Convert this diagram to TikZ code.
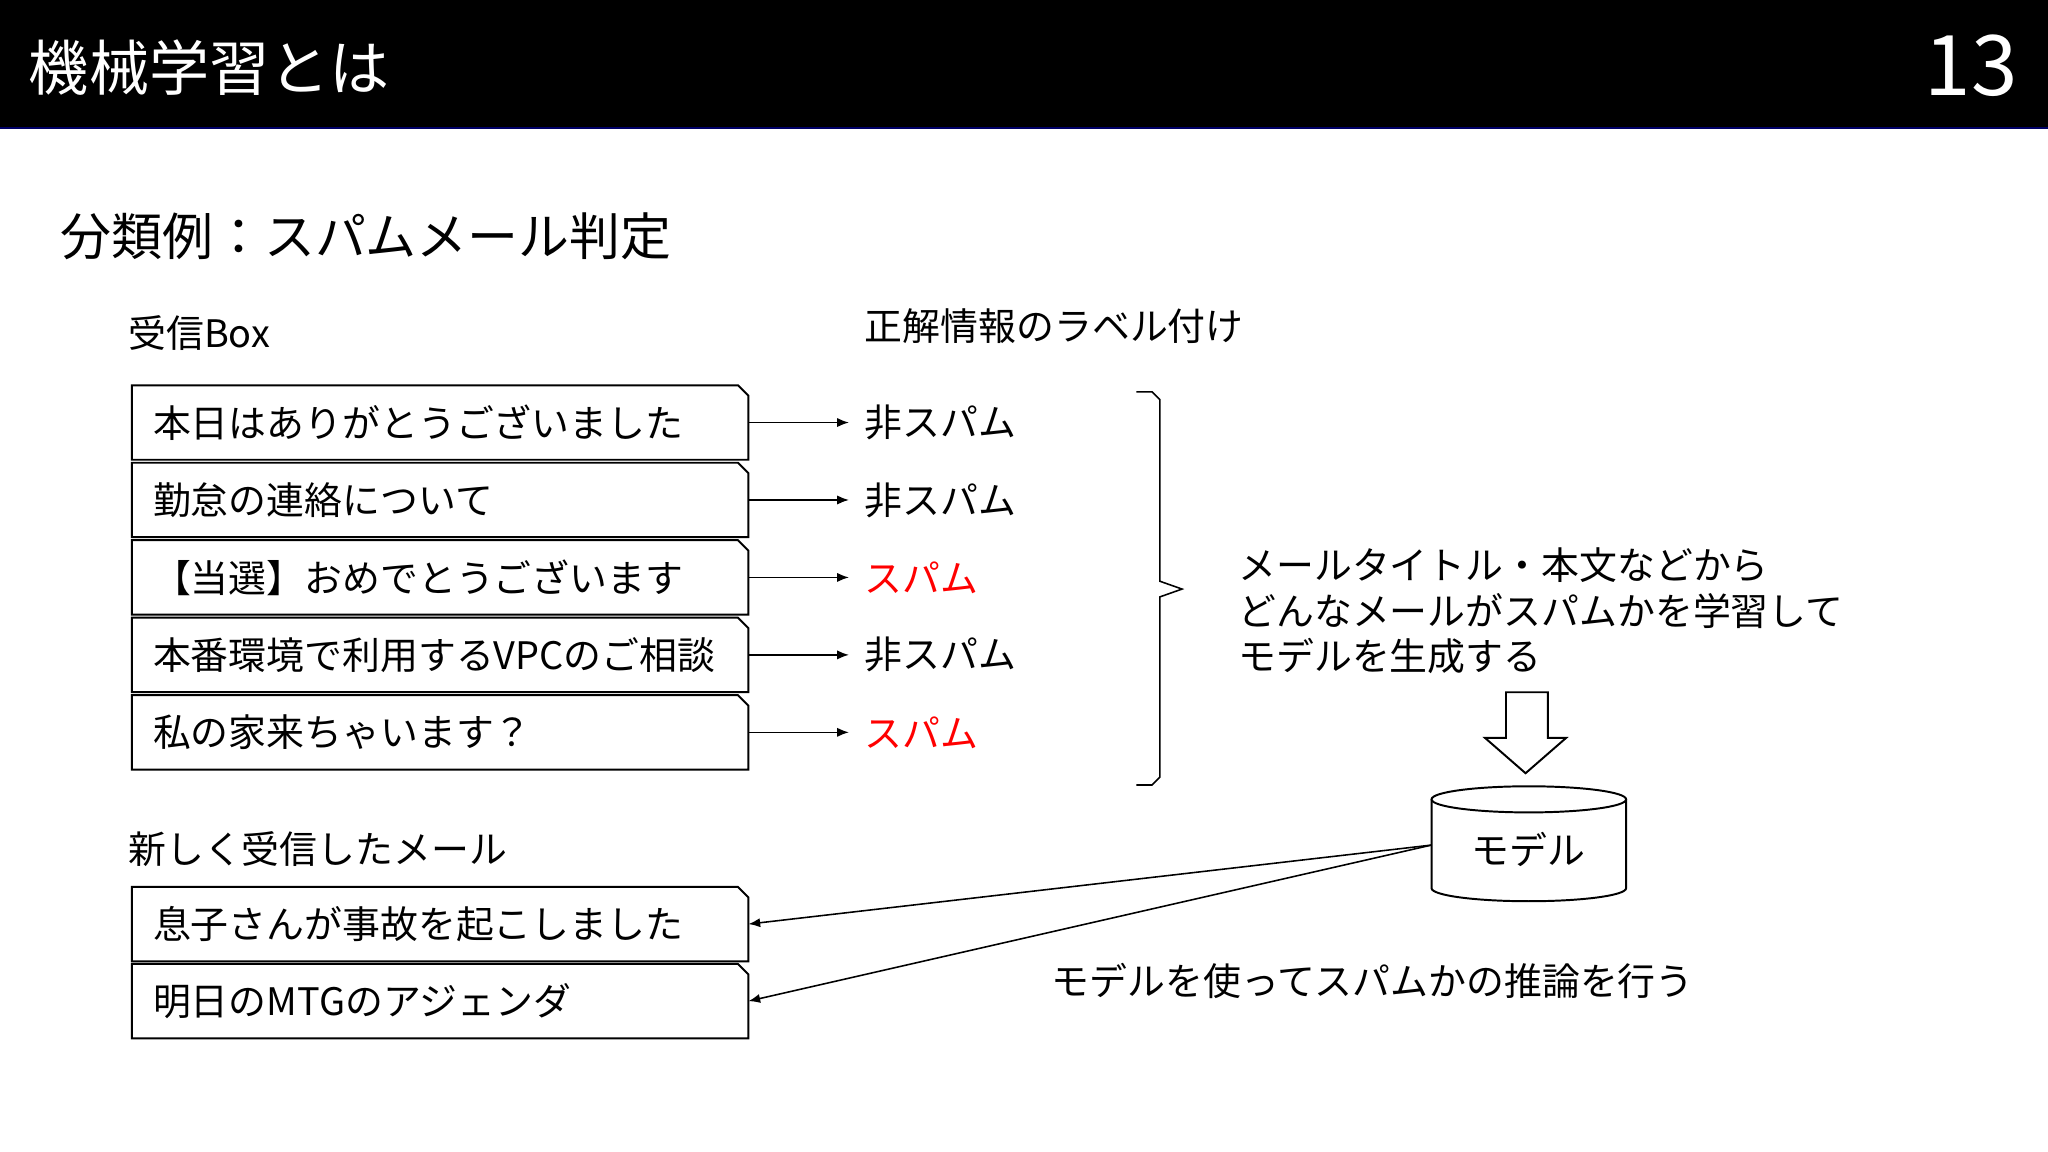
\documentclass[tikz,border=0pt]{standalone}
\usepackage{fontspec}
\setmainfont{Noto Sans CJK JP}
\usetikzlibrary{arrows.meta}
\begin{document}
\begin{tikzpicture}[x=1pt,y=-1pt,
  txt/.style={anchor=west,inner sep=0pt,font=\fontsize{29}{32}\selectfont},
  mbox/.style={draw,line width=1.5pt},
  arr/.style={-{Latex[length=9pt,width=7pt]},line width=1.2pt}]
\useasboundingbox (0,0) rectangle (1568,882);
\fill[black] (0,0) rectangle (1568,98);
\draw[color=blue!40!black,line width=1pt] (0,98)--(1568,98);
\node[txt,text=white,font=\fontsize{46}{50}\selectfont] (title) at (22,52) {機械学習とは};
\node[anchor=east,inner sep=0pt,text=white,font=\fontsize{64}{70}\selectfont] (num) at (1545,50) {13};
\node[txt,font=\fontsize{39}{44}\selectfont] (sub) at (46,181) {分類例：スパムメール判定};
\node[txt] (inbox) at (98,255) {受信Box};
\node[txt] (lbl) at (662,250) {正解情報のラベル付け};
\foreach \i/\t/\l/\c in {1/本日はありがとうございました/非スパム/black,2/勤怠の連絡について/非スパム/black,3/【当選】おめでとうございます/スパム/red,4/本番環境で利用するVPCのご相談/非スパム/black,5/私の家来ちゃいます？/スパム/red}{
  \pgfmathsetmacro\top{295+59.3*(\i-1)}
  \pgfmathsetmacro\bot{\top+57}
  \pgfmathsetmacro\mid{\top+28.5}
  \draw[mbox] (101,\top)--(565,\top)--(573,\top+8)--(573,\bot)--(101,\bot)--cycle;
  \coordinate (b\i) at (573,\mid);
  \coordinate (e\i) at (650,\mid);
  \node[txt,text=\c] (l\i) at (662,\mid) {\l};
  \node[txt] (t\i) at (117,\mid) {\t};
  \draw[arr] (b\i) -- (e\i);
}
\draw[line width=1.2pt] (870,300) -- (882,300) -- (888,306) -- (888,445) -- (905,451) -- (888,457) -- (888,595) -- (882,601) -- (870,601);
\node[txt,align=left,anchor=north west,font=\fontsize{29}{35}\selectfont] (desc) at (948,419) {メールタイトル・本文などから\\どんなメールがスパムかを学習して\\モデルを生成する};
\draw[line width=1.5pt,fill=white] (1153,530)--(1185,530)--(1185,565)--(1199,565)--(1168,592)--(1137,565)--(1153,565)--cycle;
\draw[line width=1.5pt] (1170.5,612) ellipse[x radius=74.5,y radius=10];
\draw[line width=1.5pt] (1096,612) -- (1096,680) arc[start angle=180,end angle=0,x radius=74.5,y radius=10] -- (1245,612);
\node[inner sep=0pt,font=\fontsize{29}{32}\selectfont] (model) at (1170,650) {モデル};
\coordinate (m) at (1096,647);
\node[txt] (new) at (98,650) {新しく受信したメール};
\foreach \i/\t/\y in {6/息子さんが事故を起こしました/679,7/明日のMTGのアジェンダ/738}{
  \draw[mbox] (101,\y)--(565,\y)--(573,\y+8)--(573,\y+57)--(101,\y+57)--cycle;
  \coordinate (b\i) at (573,\y+28.5);
  \node[txt] (t\i) at (117,\y+28.5) {\t};
  \draw[arr] (m) -- (b\i);
}
\node[txt] (inf) at (805,751) {モデルを使ってスパムかの推論を行う};
\end{tikzpicture}
\end{document}
